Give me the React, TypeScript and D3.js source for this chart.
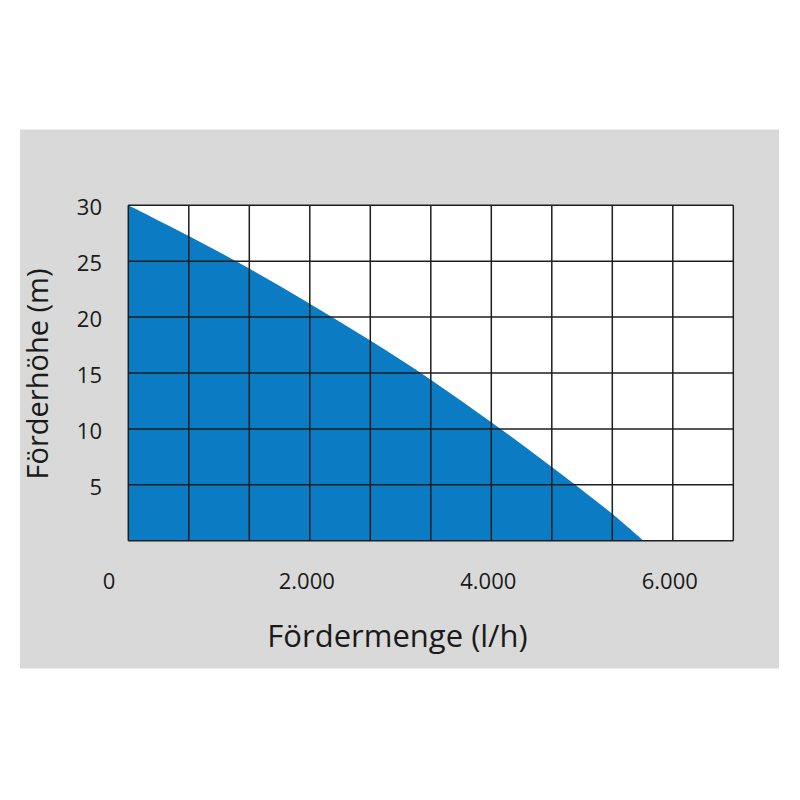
import React from "react";
import * as d3 from "d3";

const flowValues = [0, 667, 1333, 2000, 2667, 3333, 4000, 4667, 5333, 5675];
const headValues = [30, 27.25, 24.35, 21.2, 17.9, 14.4, 10.6, 6.6, 2.4, 0];
const xTicks = [0, 2000, 4000, 6000];
const yTicks = [5, 10, 15, 20, 25, 30];
const xMax = 6667;
const yMax = 30;
const xGridCount = 10;
const yGridCount = 6;

const FONT = "'Open Sans', 'Noto Sans', sans-serif";

export default function App() {
  const left = 128.3, right = 733.3, top = 205.3, bottom = 540.7;
  const x = d3.scaleLinear().domain([0, xMax]).range([left, right]);
  const y = d3.scaleLinear().domain([0, yMax]).range([bottom, top]);
  const data = flowValues.map((q, i) => [q, headValues[i]] as [number, number]);
  const area = d3
    .area<[number, number]>()
    .x((d) => x(d[0]))
    .y0(y(0))
    .y1((d) => y(d[1]))
    .curve(d3.curveCatmullRom.alpha(0.5));
  const xGrid = d3.range(xGridCount + 1).map((i) => (i * xMax) / xGridCount);
  const yGrid = d3.range(yGridCount + 1).map((i) => (i * yMax) / yGridCount);
  const fmt = (v: number) => d3.format(",")(v).replace(/,/g, ".");

  return (
    <svg
      width={800}
      height={800}
      style={{ position: "absolute", left: 0, top: 0, background: "#fff" }}
    >
      <rect x={20} y={129.5} width={759} height={539} fill="#d9d9d9" />
      <rect x={left} y={top} width={right - left} height={bottom - top} fill="#fff" />
      <path d={area(data) || ""} fill="#0b7bc3" />
      {xGrid.map((v, i) => (
        <line key={"gx" + i} x1={x(v)} x2={x(v)} y1={top} y2={bottom} stroke="#1e1e1e" strokeWidth={1.5} />
      ))}
      {yGrid.map((v, i) => (
        <line key={"gy" + i} x1={left} x2={right} y1={y(v)} y2={y(v)} stroke="#1e1e1e" strokeWidth={1.5} />
      ))}
      {yTicks.map((v) => (
        <text
          key={"yt" + v}
          x={102}
          y={y(v) + 1}
          textAnchor="end"
          dominantBaseline="central"
          fontFamily={FONT}
          fontSize={22}
          fill="#1a1a1a"
        >
          {v}
        </text>
      ))}
      {xTicks.map((v) => (
        <text
          key={"xt" + v}
          x={v === 0 ? x(v) - 13 : x(v) - 3}
          y={580}
          textAnchor={v === 0 ? "end" : "middle"}
          dominantBaseline="central"
          fontFamily={FONT}
          fontSize={22}
          fill="#1a1a1a"
        >
          {fmt(v)}
        </text>
      ))}
      <text
        x={397.5}
        y={646.5}
        textAnchor="middle"
        fontFamily={FONT}
        fontSize={31}
        fill="#1a1a1a"
      >
        Fördermenge (l/h)
      </text>
      <text
        transform={`translate(48,374) rotate(-90)`}
        textAnchor="middle"
        fontFamily={FONT}
        fontSize={29}
        fill="#1a1a1a"
      >
        Förderhöhe (m)
      </text>
    </svg>
  );
}
